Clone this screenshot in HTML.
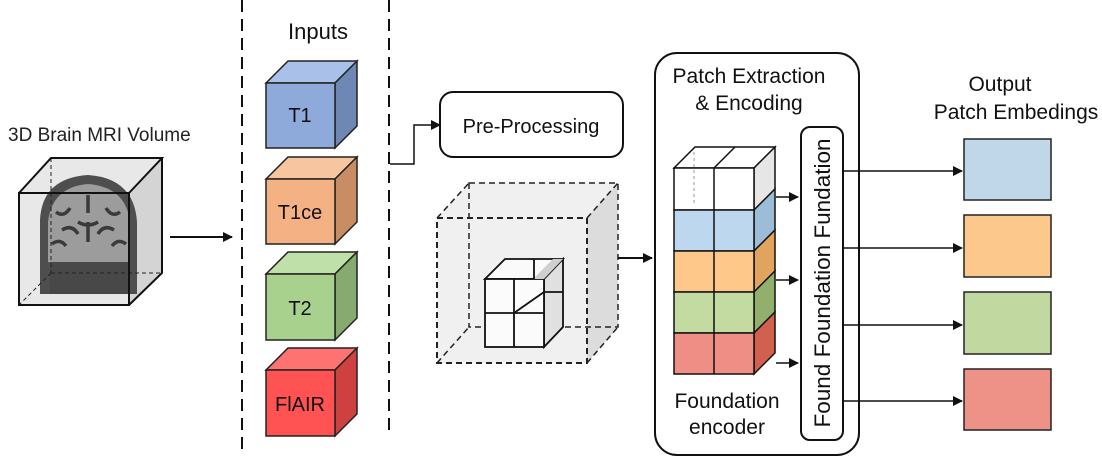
<!DOCTYPE html>
<html><head><meta charset="utf-8"><style>
html,body{margin:0;padding:0;background:#fff;}
svg{display:block;font-family:"Liberation Sans",Arial,sans-serif;}
</style></head><body>
<svg width="1102" height="467" viewBox="0 0 1102 467" xmlns="http://www.w3.org/2000/svg">
<defs>
<marker id="ah" markerWidth="10" markerHeight="10" refX="9" refY="5" orient="auto" markerUnits="userSpaceOnUse">
<path d="M0,0 L10,5 L0,10 z" fill="#111"/></marker>
</defs>
<rect width="1102" height="467" fill="#fff"/>

<!-- Brain cube -->
<text x="8" y="141" font-size="19" fill="#222">3D Brain MRI Volume</text>
<polygon points="19,193 51,158 162,158 162,273 129,305 19,305" fill="#e8e8e8"/>
<polygon points="129,193 162,158 162,273 129,305" fill="#d4d4d4"/>
<path d="M40,294 L40,220 Q42,178 88,175 Q134,178 137,222 L137,294 Z" fill="#4e4e4e"/>
<path d="M48,262 L48,222 Q52,187 88,184 Q126,187 130,222 L130,262 Q88,270 48,262 Z" fill="#9c9c9c"/>
<g stroke="#3a3a3a" stroke-width="3.5" fill="none">
<path d="M56,212 q8,6 14,-4 M62,230 q10,-6 16,4 M52,244 q8,-6 14,2"/>
<path d="M120,212 q-8,6 -14,-4 M114,230 q-10,-6 -16,4 M126,244 q-8,-6 -14,2"/>
<path d="M88,195 v18 M78,222 q10,6 20,0 M88,222 v20"/>
</g>
<rect x="50" y="262" width="78" height="32" fill="#484848"/>
<line x1="51" y1="158" x2="51" y2="273" stroke="#222" stroke-dasharray="4,3"/>
<line x1="51" y1="273" x2="162" y2="273" stroke="#222" stroke-dasharray="4,3"/>
<line x1="51" y1="273" x2="19" y2="305" stroke="#222" stroke-dasharray="4,3"/>
<g fill="none" stroke="#111" stroke-width="2">
<rect x="19" y="193" width="110" height="112"/>
<polyline points="19,193 51,158 162,158 129,193"/>
<polyline points="162,158 162,273 129,305"/>
</g>
<line x1="170" y1="237" x2="232" y2="237" stroke="#111" stroke-width="2" marker-end="url(#ah)"/>

<!-- dashed separators -->
<line x1="242" y1="0" x2="242" y2="450" stroke="#111" stroke-width="2" stroke-dasharray="12,7"/>
<line x1="389" y1="0" x2="389" y2="436" stroke="#111" stroke-width="2" stroke-dasharray="12,7"/>
<text x="318" y="39" font-size="22" text-anchor="middle" fill="#111">Inputs</text>

<!-- input cubes -->
<g stroke="#222" stroke-width="1.5">
<polygon points="266,83 288,61 357,61 335,83" fill="#a9c0e8"/>
<polygon points="335,83 357,61 357,126 335,148" fill="#6f87b3"/>
<rect x="266" y="83" width="69" height="65" fill="#8eaadb"/>
<polygon points="266,179 288,157 357,157 335,179" fill="#f7c59f"/>
<polygon points="335,179 357,157 357,222 335,244" fill="#c88d63"/>
<rect x="266" y="179" width="69" height="65" fill="#f4b183"/>
<polygon points="266,274 288,252 357,252 335,274" fill="#bfe0a8"/>
<polygon points="335,274 357,252 357,318 335,340" fill="#86aa6f"/>
<rect x="266" y="274" width="69" height="66" fill="#a9d18e"/>
<polygon points="266,370 288,348 357,348 335,370" fill="#ff7272"/>
<polygon points="335,370 357,348 357,414 335,436" fill="#cf4040"/>
<rect x="266" y="370" width="69" height="66" fill="#ff5252"/>
</g>
<g font-size="20" text-anchor="middle" fill="#111">
<text x="300" y="122">T1</text>
<text x="300" y="219">T1ce</text>
<text x="300" y="315">T2</text>
<text x="300" y="411">FlAIR</text>
</g>

<!-- connector to pre-processing -->
<polyline points="390,164 414,164 414,125 440,125" fill="none" stroke="#111" stroke-width="1.5" marker-end="url(#ah)"/>
<rect x="440" y="92" width="183" height="65" rx="13" fill="#fff" stroke="#111" stroke-width="2"/>
<text x="531" y="133" font-size="20" text-anchor="middle" fill="#111">Pre-Processing</text>

<!-- dashed big cube -->
<polygon points="437,218 469,183 618,183 618,327 587,363 437,363" fill="#f0f0f0"/>
<polygon points="587,218 618,183 618,327 587,363" fill="#dcdcdc"/>
<g fill="none" stroke="#222" stroke-width="1.5" stroke-dasharray="6,4">
<rect x="469" y="183" width="149" height="144"/>
<line x1="437" y1="218" x2="469" y2="183"/><line x1="587" y1="218" x2="618" y2="183"/>
<line x1="437" y1="363" x2="469" y2="327"/><line x1="587" y1="363" x2="618" y2="327"/>
<rect x="437" y="218" width="150" height="145" stroke-width="2"/>
</g>
<!-- small cube -->
<g stroke="#111" stroke-width="1.8">
<polygon points="485,279 505,259 563,259 544,279" fill="#fafafa"/>
<polygon points="544,279 563,259 563,327 544,347" fill="#e0e0e0"/>
<rect x="485" y="279" width="59" height="68" fill="#fbfbfb"/>
<polygon points="533,279 544,279 563,259 553,259" fill="#cfcfcf" stroke="none"/>
<line x1="514" y1="279" x2="514" y2="347"/>
<line x1="485" y1="313" x2="544" y2="313"/>
<line x1="534" y1="259" x2="534" y2="279"/>
<line x1="544" y1="292" x2="563" y2="292"/>
<line x1="514" y1="313" x2="544" y2="292"/>
</g>
<line x1="618" y1="258" x2="652" y2="258" stroke="#111" stroke-width="2" marker-end="url(#ah)"/>

<!-- big rounded box -->
<rect x="655" y="53" width="204" height="402" rx="22" fill="none" stroke="#111" stroke-width="2"/>
<text x="749" y="83" font-size="21" text-anchor="middle" fill="#111">Patch Extraction</text>
<text x="749" y="110" font-size="21" text-anchor="middle" fill="#111">&amp; Encoding</text>
<text x="727" y="408" font-size="21" text-anchor="middle" fill="#111">Foundation</text>
<text x="727" y="434" font-size="21" text-anchor="middle" fill="#111">encoder</text>

<!-- column -->
<g stroke="#111" stroke-width="1.5">
<polygon points="674,168 695,147 775,147 754,168" fill="#fff"/>
<line x1="714" y1="168" x2="735" y2="147"/>
<polygon points="754,168 775,147 775,189 754,210" fill="#e6e6e6"/>
<polygon points="754,210 775,189 775,230 754,251" fill="#9dbcd8"/>
<polygon points="754,251 775,230 775,271 754,292" fill="#e0a45e"/>
<polygon points="754,292 775,271 775,312 754,333" fill="#92af6c"/>
<polygon points="754,333 775,312 775,353 754,374" fill="#d2604e"/>
<rect x="674" y="168" width="80" height="42" fill="#fff"/>
<rect x="674" y="210" width="80" height="41" fill="#bdd7ee"/>
<rect x="674" y="251" width="80" height="41" fill="#fdc88a"/>
<rect x="674" y="292" width="80" height="41" fill="#c3dba0"/>
<rect x="674" y="333" width="80" height="41" fill="#ee8e85"/>
<line x1="714" y1="168" x2="714" y2="374"/>
</g>
<line x1="694" y1="152" x2="694" y2="204" stroke="#999" stroke-dasharray="3,3"/>
<g stroke="#111" stroke-width="1.5" marker-end="url(#ah)">
<line x1="776" y1="197" x2="798" y2="197"/>
<line x1="776" y1="280" x2="798" y2="280"/>
<line x1="776" y1="363" x2="798" y2="363"/>
</g>
<rect x="801" y="127" width="42" height="313" rx="9" fill="#fff" stroke="#111" stroke-width="2"/>
<text transform="translate(830,283) rotate(-90)" font-size="22.5" text-anchor="middle" fill="#111">Found Foundation Fundation</text>

<!-- outputs -->
<text x="1000" y="91" font-size="21" text-anchor="middle" fill="#111">Output</text>
<text x="1016" y="119" font-size="21" text-anchor="middle" fill="#111">Patch Embedings</text>
<g stroke="#111" stroke-width="1.5" marker-end="url(#ah)">
<line x1="843" y1="171" x2="962" y2="171"/>
<line x1="843" y1="248" x2="962" y2="248"/>
<line x1="843" y1="325" x2="962" y2="325"/>
<line x1="843" y1="401" x2="962" y2="401"/>
</g>
<g stroke="#222" stroke-width="1.5">
<rect x="964" y="139" width="87" height="61" fill="#c0d7ea"/>
<rect x="964" y="215" width="87" height="62" fill="#fdc88c"/>
<rect x="964" y="292" width="87" height="62" fill="#c1d9a1"/>
<rect x="964" y="369" width="87" height="61" fill="#ee9288"/>
</g>
</svg>
</body></html>
